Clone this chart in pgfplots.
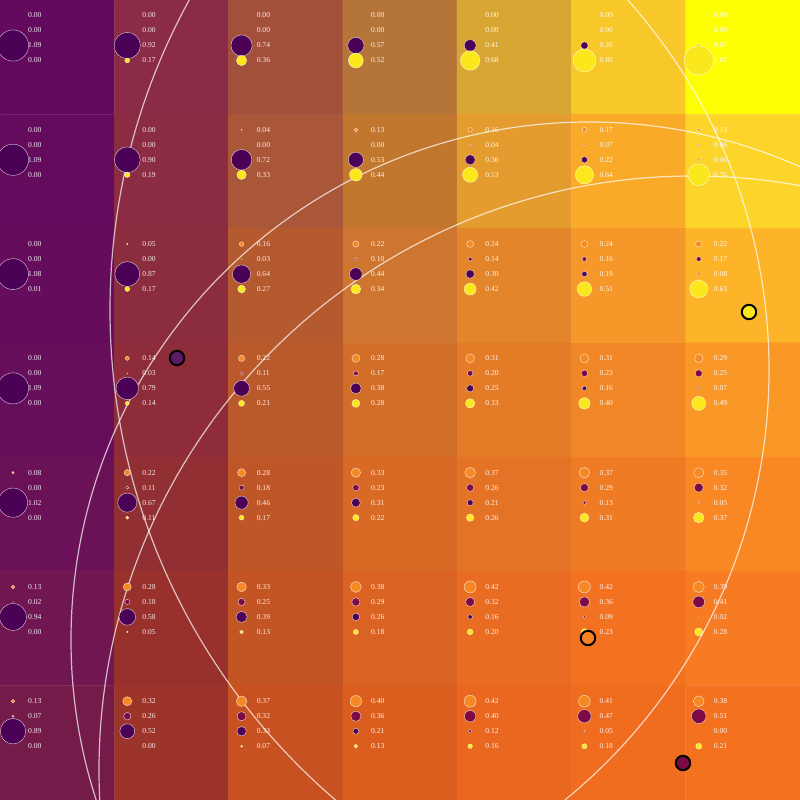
\documentclass[border=0pt]{standalone}
\usepackage{pgfplots}
\usepackage{pgfplotstable}
\usepackage{fontspec}
\setmainfont{Liberation Serif}
\pgfplotsset{compat=1.18}

\definecolor{sOrange}{HTML}{F58A25}
\definecolor{sMaroon}{HTML}{7B0A45}
\definecolor{sPurple}{HTML}{4B0155}
\definecolor{sYellow}{HTML}{FBE81C}

% shares per cell: column, row, orange, maroon, purple, yellow
\pgfplotstableread{
c r o m p w
0 0 0.00 0.00 1.09 0.00
1 0 0.00 0.00 0.92 0.17
2 0 0.00 0.00 0.74 0.36
3 0 0.00 0.00 0.57 0.52
4 0 0.00 0.00 0.41 0.68
5 0 0.00 0.00 0.26 0.80
6 0 0.00 0.00 0.07 1.02
0 1 0.00 0.00 1.09 0.00
1 1 0.00 0.00 0.90 0.19
2 1 0.04 0.00 0.72 0.33
3 1 0.13 0.00 0.53 0.44
4 1 0.16 0.04 0.36 0.53
5 1 0.17 0.07 0.22 0.64
6 1 0.13 0.06 0.06 0.76
0 2 0.00 0.00 1.08 0.01
1 2 0.05 0.00 0.87 0.17
2 2 0.16 0.03 0.64 0.27
3 2 0.22 0.10 0.44 0.34
4 2 0.24 0.14 0.30 0.42
5 2 0.24 0.16 0.19 0.51
6 2 0.22 0.17 0.08 0.63
0 3 0.00 0.00 1.09 0.00
1 3 0.14 0.03 0.79 0.14
2 3 0.22 0.11 0.55 0.21
3 3 0.28 0.17 0.38 0.28
4 3 0.31 0.20 0.25 0.33
5 3 0.31 0.23 0.16 0.40
6 3 0.29 0.25 0.07 0.49
0 4 0.08 0.00 1.02 0.00
1 4 0.22 0.11 0.67 0.11
2 4 0.28 0.18 0.46 0.17
3 4 0.33 0.23 0.31 0.22
4 4 0.37 0.26 0.21 0.26
5 4 0.37 0.29 0.13 0.31
6 4 0.35 0.32 0.05 0.37
0 5 0.13 0.02 0.94 0.00
1 5 0.28 0.18 0.58 0.05
2 5 0.33 0.25 0.39 0.13
3 5 0.38 0.29 0.26 0.18
4 5 0.42 0.32 0.16 0.20
5 5 0.42 0.36 0.09 0.23
6 5 0.39 0.41 0.02 0.28
0 6 0.13 0.07 0.89 0.00
1 6 0.32 0.26 0.52 0.00
2 6 0.37 0.32 0.33 0.07
3 6 0.40 0.36 0.21 0.13
4 6 0.42 0.40 0.12 0.16
5 6 0.41 0.47 0.05 0.18
6 6 0.38 0.51 0.00 0.21
}\shares

\tikzset{ring/.style={draw=white, draw opacity=0.7, line width=1.2pt}}

\pgfplotsset{
  colormap={cells}{
    rgb255=(99,10,94) rgb255=(139,43,69) rgb255=(163,80,59) rgb255=(181,117,56) rgb255=(216,167,51) rgb255=(248,200,42) rgb255=(254,254,2)
    rgb255=(100,11,93) rgb255=(140,44,66) rgb255=(170,86,56) rgb255=(194,119,47) rgb255=(227,156,45) rgb255=(249,170,41) rgb255=(253,213,42)
    rgb255=(101,13,92) rgb255=(139,45,62) rgb255=(181,89,46) rgb255=(206,118,47) rgb255=(226,133,43) rgb255=(245,152,41) rgb255=(253,180,40)
    rgb255=(103,14,91) rgb255=(142,44,58) rgb255=(186,89,42) rgb255=(210,110,40) rgb255=(228,123,39) rgb255=(240,134,38) rgb255=(249,151,39)
    rgb255=(107,17,88) rgb255=(146,47,50) rgb255=(191,86,39) rgb255=(216,106,37) rgb255=(229,115,38) rgb255=(239,123,36) rgb255=(248,135,36)
    rgb255=(112,22,80) rgb255=(152,48,44) rgb255=(195,85,36) rgb255=(218,98,34) rgb255=(232,108,34) rgb255=(243,114,34) rgb255=(246,123,34)
    rgb255=(117,27,74) rgb255=(156,52,41) rgb255=(199,81,33) rgb255=(220,94,31) rgb255=(233,103,31) rgb255=(240,108,31) rgb255=(244,114,31)
  },
  share/.style 2 args={
    scatter, only marks, mark=*,
    point meta=\thisrow{#1},
    scatter/use mapped color={draw=white, draw opacity=0.8, fill=#2},
    visualization depends on={14.3*\thisrow{#1} \as \rad},
    visualization depends on={min(1.9,2.0*\thisrow{#1}) \as \lw},
    scatter/@pre marker code/.append style={/tikz/mark size=\rad, /tikz/line width=\lw pt},
  },
  lbl/.style={
    draw=none, no marks, nodes near coords, point meta=explicit symbolic,
    every node near coord/.append style={anchor=west, inner sep=0pt,
      text=white, text opacity=0.9, font=\fontsize{7.6}{9}\selectfont},
  },
}

\begin{document}
\begin{tikzpicture}
\begin{axis}[
  scale only axis, width=800pt, height=800pt,
  xmin=0, xmax=800, ymin=0, ymax=800, y dir=reverse,
  hide axis,
]
% cell backgrounds
\addplot[matrix plot*, mesh/cols=7, colormap name=cells, colormap access=direct,
  point meta={\thisrow{r}*7+\thisrow{c}}]
  table[x expr=\thisrow{c}*114.2857+57.14, y expr=\thisrow{r}*114.2857+57.14] {\shares};

% value labels
\addplot[lbl] table[x expr=\thisrow{c}*114.2857+28, y expr=\thisrow{r}*114.2857+15.5, meta=o] {\shares};
\addplot[lbl] table[x expr=\thisrow{c}*114.2857+28, y expr=\thisrow{r}*114.2857+30.5, meta=m] {\shares};
\addplot[lbl] table[x expr=\thisrow{c}*114.2857+28, y expr=\thisrow{r}*114.2857+45.5, meta=p] {\shares};
\addplot[lbl] table[x expr=\thisrow{c}*114.2857+28, y expr=\thisrow{r}*114.2857+60.5, meta=w] {\shares};

% share circles
\addplot[share={o}{sOrange}] table[x expr=\thisrow{c}*114.2857+13,
  y expr={\thisrow{o}<0.005 ? nan : \thisrow{r}*114.2857+15.5}] {\shares};
\addplot[share={m}{sMaroon}] table[x expr=\thisrow{c}*114.2857+13,
  y expr={\thisrow{m}<0.005 ? nan : \thisrow{r}*114.2857+30.5}] {\shares};
\addplot[share={p}{sPurple}] table[x expr=\thisrow{c}*114.2857+13,
  y expr={\thisrow{p}<0.005 ? nan : \thisrow{r}*114.2857+45.5}] {\shares};
\addplot[share={w}{sYellow}] table[x expr=\thisrow{c}*114.2857+13,
  y expr={\thisrow{w}<0.005 ? nan : \thisrow{r}*114.2857+60.5}] {\shares};

% large rings
\draw[ring] (axis cs:589,640) circle[radius=518];
\draw[ring] (axis cs:214,370) circle[radius=555];
\draw[ring] (axis cs:755,310) circle[radius=645];
\draw[ring] (axis cs:693,770) circle[radius=594];

% outlined centre points
\addplot[only marks, mark=*, mark size=7.2pt, mark options={draw=black, fill=sPurple!90!white, line width=2pt}] coordinates {(177,358)};
\addplot[only marks, mark=*, mark size=7.2pt, mark options={draw=black, fill=sYellow, line width=2pt}] coordinates {(749,312)};
\addplot[only marks, mark=*, mark size=7.2pt, mark options={draw=black, fill=sOrange!95!red, line width=2pt}] coordinates {(588,638)};
\addplot[only marks, mark=*, mark size=7.2pt, mark options={draw=black, fill=sMaroon, line width=2pt}] coordinates {(683,763)};
\end{axis}
\pgfresetboundingbox
\path[use as bounding box] (current axis.south west) rectangle (current axis.north east);
\end{tikzpicture}
\end{document}
